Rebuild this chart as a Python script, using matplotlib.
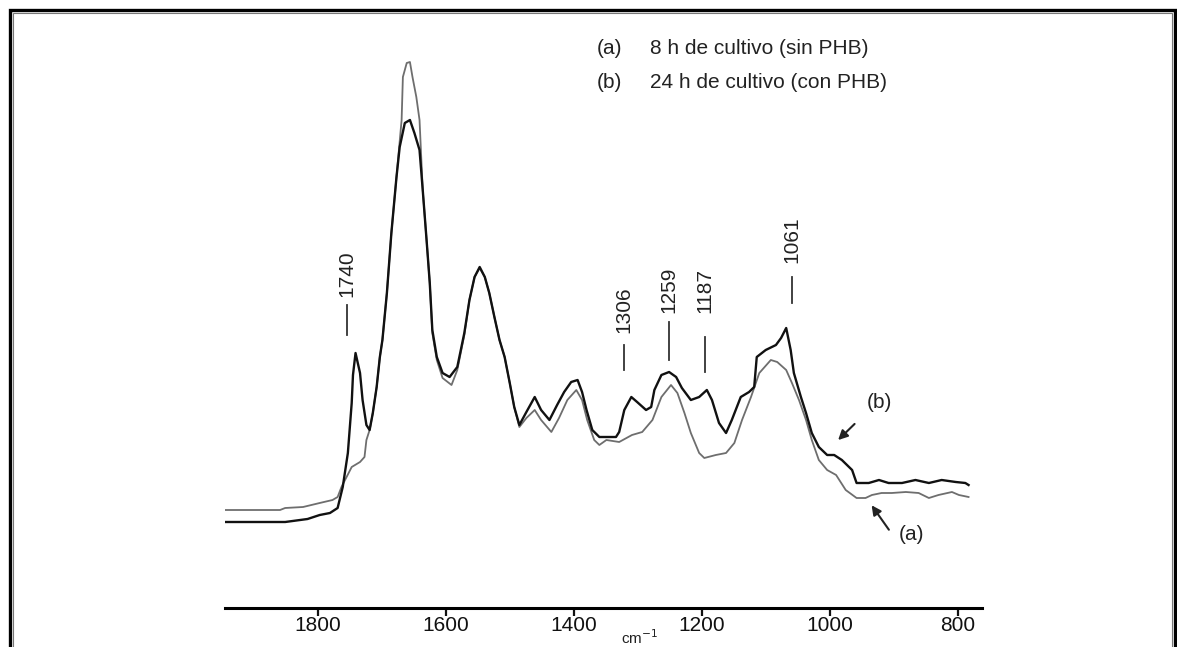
import matplotlib
matplotlib.use('Agg')
import matplotlib.pyplot as plt
from matplotlib.patches import Rectangle

plt.rcParams['font.family'] = ['Liberation Sans', 'DejaVu Sans']

# espectro (b) 24 h de cultivo (con PHB) - trazo negro
wn_b = [1945, 1851, 1816, 1797, 1781, 1769, 1761, 1753, 1747, 1745, 1741, 1734, 1730, 1724,
        1719, 1714, 1708, 1703, 1699, 1692, 1685, 1677, 1672, 1664, 1656, 1649, 1641, 1636,
        1630, 1625, 1621, 1614, 1605, 1594, 1582, 1571, 1563, 1555, 1547, 1539, 1532, 1524,
        1516, 1508, 1500, 1493, 1485, 1474, 1461, 1451, 1438, 1426, 1415, 1404, 1394, 1387,
        1380, 1371, 1360, 1344, 1334, 1329, 1321, 1310, 1301, 1287, 1279, 1274, 1263, 1251,
        1240, 1231, 1217, 1204, 1192, 1184, 1173, 1162, 1153, 1139, 1126, 1118, 1114, 1100,
        1084, 1076, 1068, 1061, 1056, 1045, 1037, 1028, 1017, 1004, 993, 981, 965, 958,
        939, 923, 908, 887, 866, 845, 825, 803, 788, 783]
abs_b = [0.43, 0.43, 0.445, 0.465, 0.475, 0.50, 0.605, 0.775, 1.025, 1.165, 1.275, 1.175, 1.04, 0.915,
         0.89, 0.975, 1.105, 1.255, 1.34, 1.575, 1.875, 2.155, 2.305, 2.425, 2.44, 2.375, 2.29, 2.09,
         1.84, 1.625, 1.39, 1.255, 1.175, 1.155, 1.205, 1.375, 1.54, 1.655, 1.705, 1.655, 1.575, 1.455,
         1.34, 1.255, 1.125, 1.005, 0.915, 0.98, 1.055, 0.99, 0.94, 1.015, 1.08, 1.13, 1.14, 1.08,
         0.99, 0.89, 0.855, 0.855, 0.855, 0.88, 0.99, 1.055, 1.03, 0.99, 1.005, 1.09, 1.165, 1.18,
         1.155, 1.10, 1.04, 1.055, 1.09, 1.04, 0.925, 0.875, 0.94, 1.055, 1.08, 1.105, 1.255, 1.29,
         1.315, 1.35, 1.40, 1.29, 1.175, 1.055, 0.975, 0.875, 0.805, 0.765, 0.765, 0.74, 0.69, 0.625,
         0.625, 0.64, 0.625, 0.625, 0.64, 0.625, 0.64, 0.63, 0.625, 0.615]

# espectro (a) 8 h de cultivo (sin PHB) - trazo gris
wn_a = [1945, 1859, 1851, 1823, 1797, 1777, 1769, 1763, 1755, 1747, 1734, 1727, 1724, 1719,
        1714, 1708, 1703, 1699, 1692, 1685, 1677, 1669, 1667, 1661, 1656, 1652, 1646, 1641,
        1636, 1630, 1625, 1621, 1614, 1605, 1591, 1582, 1571, 1563, 1555, 1547, 1539, 1532,
        1524, 1516, 1508, 1500, 1493, 1485, 1474, 1461, 1451, 1435, 1423, 1410, 1396, 1387,
        1379, 1368, 1360, 1349, 1329, 1309, 1293, 1277, 1263, 1248, 1238, 1227, 1217, 1204,
        1196, 1178, 1162, 1149, 1137, 1123, 1110, 1092, 1082, 1068, 1059, 1048, 1037, 1028,
        1017, 1004, 990, 975, 958, 944, 934, 919, 903, 881, 861, 845, 830, 809, 798, 783]
abs_a = [0.49, 0.49, 0.50, 0.505, 0.525, 0.54, 0.555, 0.605, 0.655, 0.705, 0.73, 0.755, 0.84, 0.89,
         0.975, 1.105, 1.255, 1.34, 1.575, 1.875, 2.155, 2.44, 2.655, 2.725, 2.73, 2.655, 2.555, 2.44,
         2.09, 1.84, 1.625, 1.375, 1.24, 1.15, 1.115, 1.19, 1.365, 1.54, 1.655, 1.70, 1.655, 1.575,
         1.455, 1.34, 1.255, 1.125, 1.005, 0.905, 0.95, 0.99, 0.94, 0.88, 0.95, 1.04, 1.09, 1.04,
         0.94, 0.84, 0.815, 0.84, 0.83, 0.865, 0.88, 0.94, 1.055, 1.115, 1.075, 0.975, 0.875, 0.775,
         0.75, 0.765, 0.775, 0.825, 0.94, 1.055, 1.175, 1.24, 1.23, 1.19, 1.125, 1.04, 0.94, 0.84,
         0.74, 0.69, 0.665, 0.59, 0.55, 0.55, 0.565, 0.575, 0.575, 0.58, 0.575, 0.55, 0.565, 0.58, 0.565, 0.555]

# bandas marcadas
peak_labels = ['1740', '1306', '1259', '1187', '1061']
peak_x = [1755, 1321, 1251, 1195, 1059]
bar_lo = [1.365, 1.19, 1.24, 1.18, 1.525]
bar_hi = [1.515, 1.315, 1.43, 1.355, 1.655]
text_y = [1.555, 1.375, 1.475, 1.475, 1.725]

ticks = [1800, 1600, 1400, 1200, 1000, 800]

W, H = 1177, 647
fig = plt.figure(figsize=(W / 100, H / 100), dpi=100)
ax = fig.add_axes([225 / W, (H - 608) / H, 757 / W, 568 / H])

ax.plot(wn_a, abs_a, color='#6e6e6e', lw=1.3)
ax.plot(wn_b, abs_b, color='#111111', lw=1.7)

ax.set_xlim(1945, 762)
ax.set_ylim(0, 2.84)

for s in ['top', 'left', 'right']:
    ax.spines[s].set_visible(False)
ax.spines['bottom'].set_linewidth(2.2)
ax.set_yticks([])
ax.set_xticks(ticks)
ax.tick_params(axis='x', length=5.5, width=1.6, labelsize=15, pad=0.5, colors='#111111')
fig.text(640 / W, (H - 638) / H, 'cm$^{-1}$', fontsize=11, ha='center', va='center', color='#222222')

for lab, x, lo, hi, ty in zip(peak_labels, peak_x, bar_lo, bar_hi, text_y):
    ax.plot([x, x], [lo, hi], color='#333333', lw=1.3)
    ax.text(x, ty, lab, rotation=90, ha='center', va='bottom', fontsize=15, color='#222222')

# leyenda
ax.text(0.491, 0.985, '(a)', transform=ax.transAxes, fontsize=15, va='center', color='#222222')
ax.text(0.561, 0.985, '8 h de cultivo (sin PHB)', transform=ax.transAxes, fontsize=15, va='center', color='#222222')
ax.text(0.491, 0.926, '(b)', transform=ax.transAxes, fontsize=15, va='center', color='#222222')
ax.text(0.561, 0.926, '24 h de cultivo (con PHB)', transform=ax.transAxes, fontsize=15, va='center', color='#222222')

# flechas
ax.annotate('', xy=(990, 0.83), xytext=(958, 0.93),
            arrowprops=dict(arrowstyle='-|>', color='#222222', lw=1.5, mutation_scale=14))
ax.text(923, 1.025, '(b)', ha='center', va='center', fontsize=15, color='#222222')
ax.annotate('', xy=(937, 0.525), xytext=(905, 0.38),
            arrowprops=dict(arrowstyle='-|>', color='#222222', lw=1.5, mutation_scale=14))
ax.text(872, 0.365, '(a)', ha='center', va='center', fontsize=15, color='#222222')

# marco
fig.add_artist(Rectangle((9.5 / W, -0.1), (1175 - 9.5) / W, 1.1 - 9.5 / H,
                         transform=fig.transFigure, fill=False, ec='black', lw=2.4))
fig.add_artist(Rectangle((13 / W, -0.1), (1172 - 13) / W, 1.1 - 13 / H,
                         transform=fig.transFigure, fill=False, ec='#777777', lw=0.8))

fig.savefig('out.png', dpi=100)
